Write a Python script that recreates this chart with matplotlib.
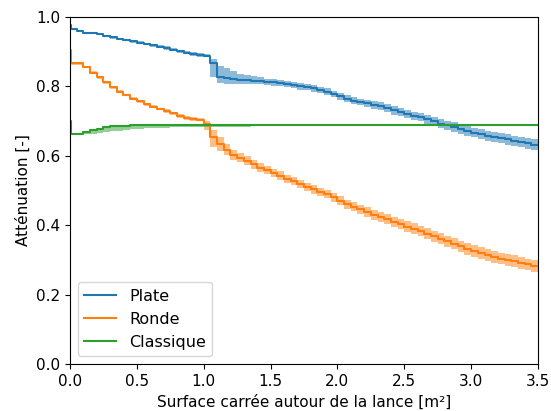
import matplotlib
matplotlib.use("Agg")
import matplotlib.pyplot as plt
import numpy as np

x = [0.00, 0.01, 0.05, 0.10, 0.15, 0.20, 0.25, 0.30, 0.35, 0.40, 0.45,
     0.50, 0.55, 0.60, 0.65, 0.70, 0.75, 0.80, 0.85, 0.90, 0.95,
     1.00, 1.05, 1.10, 1.15, 1.20, 1.25, 1.30, 1.35, 1.40, 1.45,
     1.50, 1.55, 1.60, 1.65, 1.70, 1.75, 1.80, 1.85, 1.90, 1.95,
     2.00, 2.05, 2.10, 2.15, 2.20, 2.25, 2.30, 2.35, 2.40, 2.45,
     2.50, 2.55, 2.60, 2.65, 2.70, 2.75, 2.80, 2.85, 2.90, 2.95,
     3.00, 3.05, 3.10, 3.15, 3.20, 3.25, 3.30, 3.35, 3.40, 3.45, 3.50]

plate = [0.976, 0.966, 0.960, 0.955, 0.953, 0.950, 0.946, 0.941, 0.937, 0.934, 0.930,
         0.926, 0.922, 0.918, 0.914, 0.910, 0.906, 0.901, 0.897, 0.894, 0.891,
         0.889, 0.867, 0.828, 0.823, 0.821, 0.819, 0.818, 0.817, 0.816, 0.814,
         0.812, 0.810, 0.807, 0.805, 0.801, 0.799, 0.795, 0.790, 0.785, 0.779,
         0.771, 0.764, 0.759, 0.755, 0.751, 0.747, 0.743, 0.737, 0.731, 0.726,
         0.720, 0.715, 0.711, 0.706, 0.700, 0.693, 0.688, 0.683, 0.678, 0.672,
         0.667, 0.662, 0.658, 0.655, 0.651, 0.647, 0.643, 0.640, 0.636, 0.632, 0.631]
plate_lo = [0.002, 0.002, 0.002, 0.003, 0.003, 0.003, 0.003, 0.003, 0.003, 0.004, 0.004,
            0.004, 0.004, 0.004, 0.004, 0.005, 0.005, 0.005, 0.005, 0.005, 0.005,
            0.005, 0.039, 0.019, 0.015, 0.013, 0.012, 0.011, 0.010, 0.010, 0.010,
            0.010, 0.010, 0.010, 0.010, 0.010, 0.010, 0.010, 0.010, 0.010, 0.010,
            0.010, 0.010, 0.010, 0.010, 0.011, 0.011, 0.011, 0.011, 0.012, 0.012,
            0.012, 0.012, 0.012, 0.013, 0.013, 0.013, 0.013, 0.013, 0.014, 0.014,
            0.014, 0.014, 0.014, 0.015, 0.015, 0.015, 0.015, 0.015, 0.015, 0.015, 0.015]
plate_hi = [0.002, 0.002, 0.002, 0.003, 0.003, 0.003, 0.003, 0.003, 0.003, 0.004, 0.004,
            0.004, 0.004, 0.004, 0.004, 0.005, 0.005, 0.005, 0.005, 0.005, 0.005,
            0.005, 0.011, 0.030, 0.030, 0.022, 0.018, 0.014, 0.012, 0.010, 0.008,
            0.008, 0.008, 0.008, 0.008, 0.008, 0.008, 0.008, 0.009, 0.009, 0.009,
            0.010, 0.010, 0.010, 0.010, 0.011, 0.011, 0.011, 0.011, 0.012, 0.012,
            0.012, 0.012, 0.012, 0.013, 0.013, 0.013, 0.013, 0.013, 0.014, 0.014,
            0.014, 0.014, 0.014, 0.015, 0.015, 0.015, 0.015, 0.015, 0.015, 0.015, 0.015]

ronde = [0.905, 0.866, 0.866, 0.857, 0.840, 0.826, 0.812, 0.797, 0.785, 0.775, 0.765,
         0.757, 0.748, 0.741, 0.735, 0.729, 0.722, 0.715, 0.709, 0.706, 0.704,
         0.693, 0.655, 0.634, 0.617, 0.603, 0.595, 0.586, 0.575, 0.566, 0.560,
         0.551, 0.543, 0.534, 0.527, 0.518, 0.511, 0.503, 0.496, 0.489, 0.480,
         0.470, 0.461, 0.453, 0.446, 0.438, 0.430, 0.424, 0.417, 0.410, 0.403,
         0.396, 0.390, 0.383, 0.376, 0.368, 0.361, 0.354, 0.347, 0.339, 0.332,
         0.326, 0.320, 0.314, 0.309, 0.304, 0.300, 0.296, 0.291, 0.287, 0.283, 0.281]
ronde_lo = [0.003, 0.003, 0.003, 0.003, 0.004, 0.004, 0.004, 0.004, 0.004, 0.004, 0.004,
            0.004, 0.004, 0.004, 0.004, 0.005, 0.005, 0.005, 0.005, 0.005, 0.005,
            0.018, 0.030, 0.020, 0.016, 0.014, 0.013, 0.012, 0.012, 0.012, 0.012,
            0.012, 0.012, 0.012, 0.012, 0.012, 0.012, 0.012, 0.012, 0.012, 0.012,
            0.013, 0.013, 0.013, 0.013, 0.014, 0.014, 0.014, 0.014, 0.015, 0.015,
            0.015, 0.015, 0.015, 0.016, 0.016, 0.016, 0.016, 0.016, 0.016, 0.017,
            0.017, 0.017, 0.017, 0.017, 0.017, 0.017, 0.017, 0.017, 0.017, 0.017, 0.017]
ronde_hi = [0.003, 0.003, 0.003, 0.003, 0.004, 0.004, 0.004, 0.004, 0.004, 0.004, 0.004,
            0.004, 0.004, 0.004, 0.004, 0.005, 0.005, 0.005, 0.005, 0.005, 0.005,
            0.008, 0.020, 0.020, 0.016, 0.014, 0.013, 0.012, 0.012, 0.012, 0.012,
            0.012, 0.012, 0.012, 0.012, 0.012, 0.012, 0.012, 0.012, 0.012, 0.012,
            0.013, 0.013, 0.013, 0.013, 0.014, 0.014, 0.014, 0.014, 0.015, 0.015,
            0.015, 0.015, 0.015, 0.016, 0.016, 0.016, 0.016, 0.016, 0.016, 0.017,
            0.017, 0.017, 0.017, 0.017, 0.017, 0.017, 0.017, 0.017, 0.017, 0.017, 0.017]

classique = [0.700, 0.663, 0.664, 0.668, 0.674, 0.678, 0.683, 0.685, 0.686, 0.687, 0.688,
             0.688, 0.688, 0.688, 0.688, 0.688, 0.688, 0.688, 0.688, 0.688, 0.688,
             0.689, 0.689, 0.689, 0.689, 0.689, 0.689, 0.689, 0.689, 0.689, 0.689,
             0.690, 0.690, 0.690, 0.690, 0.690, 0.690, 0.690, 0.690, 0.690, 0.690,
             0.690, 0.690, 0.690, 0.690, 0.690, 0.690, 0.690, 0.690, 0.690, 0.690,
             0.690, 0.690, 0.690, 0.690, 0.690, 0.690, 0.690, 0.690, 0.690, 0.690,
             0.690, 0.690, 0.690, 0.690, 0.690, 0.690, 0.690, 0.690, 0.690, 0.690, 0.690]
classique_lo = [0.002, 0.002, 0.003, 0.006, 0.010, 0.012, 0.014, 0.014, 0.014, 0.013, 0.012,
                0.010, 0.009, 0.008, 0.007, 0.007, 0.006, 0.006, 0.006, 0.005, 0.005,
                0.005, 0.005, 0.005, 0.005, 0.005, 0.005, 0.005, 0.004, 0.004, 0.004,
                0.004, 0.004, 0.004, 0.004, 0.004, 0.004, 0.004, 0.004, 0.004, 0.004,
                0.004, 0.004, 0.004, 0.004, 0.004, 0.004, 0.004, 0.004, 0.004, 0.004,
                0.004, 0.004, 0.004, 0.004, 0.004, 0.004, 0.004, 0.004, 0.004, 0.004,
                0.004, 0.004, 0.004, 0.004, 0.004, 0.004, 0.004, 0.004, 0.004, 0.004, 0.004]
classique_hi = [0.002, 0.002, 0.003, 0.003, 0.003, 0.003, 0.003, 0.003, 0.003, 0.003, 0.003,
                0.003, 0.003, 0.003, 0.003, 0.003, 0.003, 0.003, 0.003, 0.003, 0.003,
                0.003, 0.003, 0.003, 0.003, 0.003, 0.003, 0.003, 0.003, 0.003, 0.003,
                0.003, 0.003, 0.003, 0.003, 0.003, 0.003, 0.003, 0.003, 0.003, 0.003,
                0.003, 0.003, 0.003, 0.003, 0.003, 0.003, 0.003, 0.003, 0.003, 0.003,
                0.003, 0.003, 0.003, 0.003, 0.003, 0.003, 0.003, 0.003, 0.003, 0.003,
                0.003, 0.003, 0.003, 0.003, 0.003, 0.003, 0.003, 0.003, 0.003, 0.003, 0.003]

labels = ["Plate", "Ronde", "Classique"]
colors = ["tab:blue", "tab:orange", "tab:green"]

fig = plt.figure(figsize=(5.51, 4.11), dpi=100)
ax = fig.add_axes([70 / 551, 1 - 364 / 411, 468 / 551, 347 / 411])

xa = np.array(x)
series = [(plate, plate_lo, plate_hi), (ronde, ronde_lo, ronde_hi),
          (classique, classique_lo, classique_hi)]
for (m, lo, hi), lab, c in zip(series, labels, colors):
    m = np.array(m)
    ax.fill_between(xa, m - np.array(lo), m + np.array(hi), step="post",
                    color=c, alpha=0.5, linewidth=0)
    ax.plot(xa, m, drawstyle="steps-post", color=c, lw=1.5, label=lab)

ax.set_xlim(0, 3.5)
ax.set_ylim(0, 1.0)
ax.set_xlabel("Surface carrée autour de la lance [m²]", fontsize=11)
ax.set_ylabel("Atténuation [-]", fontsize=11)
ax.tick_params(labelsize=11)
ax.legend(loc="lower left", fontsize=11.5)

fig.savefig("out.png", dpi=100)
